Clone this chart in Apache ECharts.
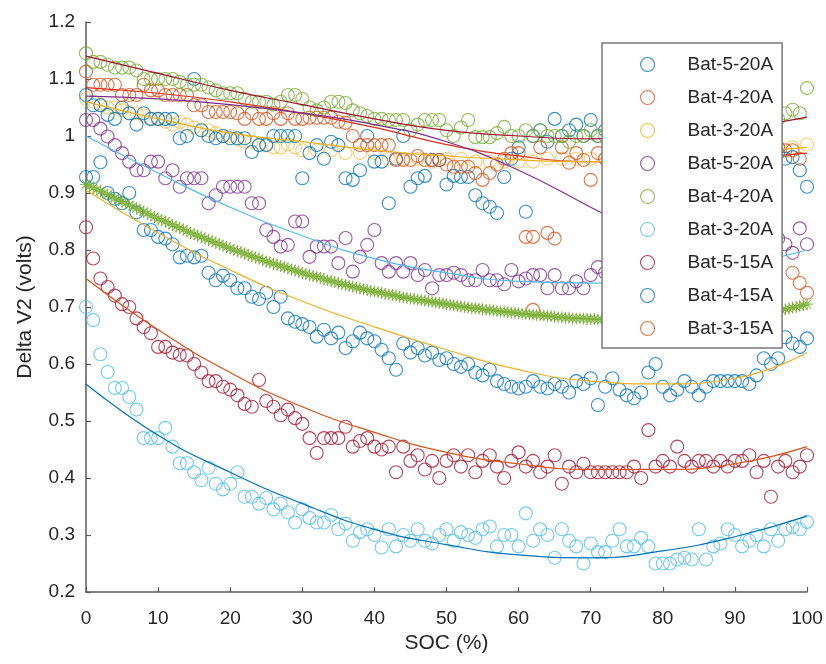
<!DOCTYPE html>
<html>
<head>
<meta charset="utf-8">
<script src="https://cdn.jsdelivr.net/npm/echarts/dist/echarts.min.js"></script>
<style>
	html, body { margin: 0; padding: 0; background: #fff; }
	#chart { width: 826px; height: 664px; }
</style>
</head>
<body>
<div id="chart"></div>
<script>
// y values at SOC = 0, 1, 2, ... 100 (null = no point)
var bat5_20A_a = [1.072,1.054,1.054,1.037,1.03,1.05,1.04,1.02,1.04,1.03,
	1.03,1.03,1.03,0.996,1.0,1.10,1.01,1.0,0.996,1.0,
	0.996,0.996,0.996,0.972,0.984,0.984,1.0,1.0,1.0,1.0,
	0.926,0.97,0.984,0.96,0.99,0.984,0.926,0.923,0.94,1.0,
	0.955,0.955,0.882,0.96,1.0,0.911,0.926,0.93,0.958,0.958,
	0.915,0.93,0.928,0.928,0.896,0.882,0.876,0.865,0.928,0.96,
	0.98,0.867,1.0,1.01,0.99,1.03,1.0,1.01,1.02,1.0,
	1.028,1.0,1.01,1.0,0.99,1.0,1.01,0.99,1.0,1.0,
	0.99,1.0,1.01,1.0,0.99,1.0,0.98,1.0,0.99,1.0,
	0.99,0.98,1.0,0.99,0.98,0.97,0.97,0.96,0.963,0.94,0.911]
var bat4_20A_a = [1.113,1.09,1.09,1.09,1.09,1.072,1.072,1.072,1.09,1.08,
	1.08,1.072,1.072,1.072,1.072,1.054,1.054,1.042,1.042,1.042,
	1.042,1.04,1.03,1.04,1.03,1.03,1.04,1.03,1.04,1.03,
	1.03,1.032,1.032,1.032,1.032,1.025,1.023,1.0,0.984,0.984,
	0.984,0.984,0.984,0.958,0.958,0.958,0.965,0.958,0.958,0.958,
	0.95,0.946,0.946,0.946,0.935,0.923,0.935,0.95,0.96,0.97,
	0.97,0.823,0.823,0.98,0.83,0.82,0.98,0.953,0.97,0.958,
	0.923,0.97,0.96,0.95,0.96,0.97,0.96,0.95,0.96,0.96,
	0.97,0.96,0.95,0.96,0.97,0.96,0.96,0.97,0.96,0.97,
	0.96,0.97,0.96,0.97,0.96,0.97,0.98,0.975,0.975,0.96,null]
var bat3_20A_a = [1.065,1.06,1.055,1.05,1.05,1.045,1.04,1.04,1.035,1.03,
	1.03,1.025,1.02,1.025,1.02,1.015,1.01,1.01,1.005,1.0,
	1.0,0.995,0.99,0.99,0.985,0.985,0.98,0.98,0.985,0.98,
	0.975,null,0.975,null,0.975,null,0.97,null,0.97,null,
	0.97,null,0.96,null,0.96,null,0.96,null,0.955,null,
	0.96,null,0.96,null,0.955,null,0.955,null,0.955,null,
	0.955,null,0.955,null,0.96,null,0.96,null,0.96,null,
	0.96,null,0.96,null,0.955,null,0.96,null,0.96,null,
	0.96,null,0.965,null,0.965,null,0.965,null,0.97,null,
	0.97,null,0.975,null,0.975,null,0.98,null,0.98,null,0.985]
var bat5_20A_b = [1.028,1.028,1.013,0.999,0.984,0.97,0.955,0.94,0.94,0.955,
	0.955,0.926,0.94,0.911,0.926,0.926,0.926,0.882,0.896,0.911,
	0.911,0.911,0.911,0.882,0.882,0.835,0.823,0.806,0.809,0.85,
	0.85,0.788,0.806,0.806,0.806,0.777,0.821,0.762,0.788,0.809,
	0.835,0.777,0.762,0.777,0.762,0.777,0.756,0.765,0.733,0.756,
	0.756,0.76,0.756,0.747,0.747,0.765,0.747,0.747,0.74,0.765,
	0.745,0.75,0.756,0.756,0.733,0.756,0.733,0.733,0.745,0.733,
	0.756,0.77,0.76,0.75,0.76,0.77,0.76,0.77,0.78,0.77,
	0.78,0.77,0.78,0.79,0.78,0.79,0.78,0.79,0.8,0.79,
	0.8,0.79,0.8,0.81,0.8,0.81,0.82,0.81,0.795,0.838,0.81]
var bat4_20A_b = [1.145,1.13,1.13,1.125,1.12,1.12,1.12,1.115,1.10,1.10,
	1.10,1.10,1.10,1.095,1.09,1.09,1.09,1.085,1.08,1.075,
	1.075,1.075,1.065,1.06,1.06,1.06,1.055,1.06,1.072,1.072,
	1.065,1.05,1.045,1.05,1.06,1.06,1.058,1.045,1.04,1.035,
	1.03,1.03,1.028,1.028,1.028,1.01,1.02,1.028,1.028,1.028,
	1.01,1.0,1.015,1.028,0.998,0.998,0.998,1.005,1.016,1.0,
	1.0,1.01,1.0,1.01,1.0,1.0,1.0,0.99,1.0,1.0,
	1.01,1.0,1.0,1.01,1.0,1.0,1.01,1.0,1.0,1.01,
	1.0,1.01,1.0,1.01,1.0,1.01,1.02,1.01,1.02,1.01,
	1.02,1.02,1.03,1.02,1.03,1.03,1.03,1.04,1.046,1.04,1.084]
var bat3_20A_b = [0.70,0.677,0.617,0.586,0.558,0.558,0.542,0.52,0.47,0.47,
	0.47,0.488,0.455,0.426,0.426,0.41,0.396,0.418,0.39,0.38,
	0.39,0.41,0.367,0.367,0.355,0.365,0.345,0.355,0.34,0.322,
	0.345,0.33,0.322,0.322,0.335,0.31,0.32,0.29,0.305,0.31,
	0.30,0.278,0.31,0.28,0.30,0.29,0.31,0.29,0.285,0.30,
	0.31,0.29,0.305,0.30,0.295,0.31,0.315,0.28,0.30,0.30,
	0.28,0.338,0.29,0.31,0.30,0.26,0.31,0.29,0.28,0.25,
	0.285,0.27,0.27,0.29,0.31,0.28,0.28,0.295,0.28,0.25,
	0.25,0.25,0.257,0.26,0.257,0.31,0.257,0.28,0.285,0.31,
	0.30,0.28,0.29,0.30,0.28,0.31,0.29,0.31,0.314,0.31,0.323]
var bat5_15A = [0.84,0.785,0.75,0.735,0.72,0.705,0.70,0.68,0.665,0.654,
	0.63,0.63,0.62,0.616,0.615,0.60,0.585,0.57,0.57,0.56,
	0.555,0.545,0.53,0.525,0.572,0.535,0.525,0.51,0.52,0.505,
	0.495,0.47,0.444,0.47,0.47,0.47,0.49,0.455,0.465,0.47,
	0.455,0.45,0.455,0.41,0.455,0.43,0.44,0.415,0.43,0.40,
	0.43,0.44,0.42,0.44,0.41,0.43,0.44,0.42,0.40,0.43,
	0.445,0.42,0.43,0.41,0.42,0.44,0.39,0.42,0.41,0.425,
	0.41,0.41,0.41,0.41,0.41,0.41,0.42,0.40,0.484,0.42,
	0.43,0.42,0.455,0.43,0.42,0.43,0.43,0.42,0.43,0.42,
	0.43,0.43,0.44,0.41,0.43,0.367,0.42,0.43,0.41,0.42,0.44]
var bat4_15A = [0.928,0.928,0.954,0.90,0.89,0.882,0.90,0.866,0.835,0.835,
	0.823,0.82,0.81,0.787,0.79,0.787,0.79,0.76,0.747,0.755,
	0.747,0.733,0.733,0.718,0.714,0.725,0.70,0.718,0.68,0.674,
	0.67,0.665,0.648,0.66,0.645,0.655,0.628,0.64,0.655,0.645,
	0.64,0.625,0.61,0.59,0.636,0.62,0.628,0.615,0.62,0.607,
	0.61,0.60,0.595,0.60,0.585,0.58,0.59,0.57,0.565,0.56,
	0.557,0.56,0.57,0.56,0.557,0.565,0.56,0.55,0.57,0.565,
	0.575,0.528,0.56,0.575,0.555,0.545,0.54,0.55,0.585,0.60,
	0.56,0.545,0.555,0.57,0.56,0.545,0.56,0.57,0.57,0.57,
	0.57,0.57,0.565,0.58,0.61,0.60,0.61,0.647,0.636,0.63,0.645]
// only the few circles that show outside the asterisk band
var bat3_15A_x = [62, 86, 98, 99, 100]
var bat3_15A_y = [0.695, 0.68, 0.76, 0.742, 0.725]

// dense asterisk curve, SOC = 0, 1, ... 100
var starCurve = [0.915,0.909,0.903,0.897,0.891,0.885,0.879,0.873,0.867,0.861,
	0.855,0.850,0.844,0.839,0.833,0.828,0.823,0.818,0.813,0.808,
	0.803,0.798,0.794,0.789,0.785,0.780,0.776,0.772,0.768,0.764,
	0.760,0.756,0.753,0.749,0.746,0.742,0.739,0.736,0.733,0.730,
	0.727,0.725,0.722,0.720,0.717,0.715,0.713,0.711,0.709,0.707,
	0.705,0.703,0.701,0.699,0.698,0.696,0.695,0.693,0.692,0.690,
	0.689,0.688,0.687,0.686,0.684,0.683,0.682,0.681,0.680,0.680,
	0.679,0.678,0.678,0.677,0.677,0.677,0.677,0.677,0.677,0.677,
	0.677,0.677,0.678,0.678,0.679,0.679,0.680,0.681,0.681,0.682,
	0.683,0.685,0.686,0.688,0.689,0.691,0.693,0.696,0.699,0.702,0.705]
// same curve at SOC = 0.5, 1.5, ... 99.5
var starCurveMid = [0.912,0.906,0.900,0.894,0.888,0.882,0.876,0.870,0.864,0.858,
	0.852,0.847,0.841,0.836,0.830,0.825,0.820,0.815,0.810,0.805,
	0.800,0.796,0.791,0.787,0.782,0.778,0.774,0.770,0.766,0.762,
	0.758,0.754,0.751,0.747,0.744,0.740,0.737,0.734,0.731,0.728,
	0.726,0.723,0.721,0.718,0.716,0.714,0.712,0.710,0.708,0.706,
	0.704,0.702,0.700,0.698,0.697,0.695,0.694,0.692,0.691,0.690,
	0.688,0.687,0.686,0.685,0.684,0.682,0.681,0.680,0.680,0.679,
	0.679,0.678,0.677,0.677,0.677,0.677,0.677,0.677,0.677,0.677,
	0.677,0.677,0.678,0.678,0.679,0.680,0.680,0.681,0.682,0.682,
	0.684,0.685,0.687,0.688,0.690,0.692,0.694,0.697,0.700,0.703]

// fitted curves, SOC = 0, 10, ... 100
var fitX = [0, 10, 20, 30, 40, 50, 60, 70, 80, 90, 100]
var fitGreen = [1.14, 1.11, 1.08, 1.055, 1.03, 1.01, 1.0, 0.995, 1.0, 1.012, 1.033]
var fitOrange = [1.085, 1.075, 1.06, 1.04, 1.015, 0.985, 0.965, 0.955, 0.955, 0.96, 0.97]
var fitPurple = [1.07, 1.065, 1.055, 1.04, 1.02, 0.99, 0.94, 0.875, 0.81, null, null]
var fitYellow = [1.06, 1.03, 1.005, 0.99, 0.975, 0.965, 0.958, 0.955, 0.96, 0.97, 0.98]
var fitCyan = [1.0, 0.935, 0.875, 0.825, 0.785, 0.76, 0.745, 0.742, 0.75, 0.77, 0.80]
var fitMid = [0.905, 0.83, 0.765, 0.71, 0.665, 0.625, 0.59, 0.57, 0.565, 0.575, 0.62]
var fitRed = [0.75, 0.66, 0.585, 0.525, 0.48, 0.445, 0.425, 0.415, 0.415, 0.425, 0.455]
var fitLow = [0.565, 0.475, 0.41, 0.355, 0.31, 0.283, 0.265, 0.26, 0.272, 0.297, 0.333]

var C_BLUE = '#0072BD', C_ORANGE = '#D95319', C_YELLOW = '#EDB120', C_PURPLE = '#7E2F8E',
	C_GREEN = '#77AC30', C_CYAN = '#4DBEEE', C_DRED = '#A2142F'
var FONT = '"Liberation Sans", Arial, Helvetica, sans-serif'
var STAR = 'path://M5,0L5,10M0,5L10,5M1.5,1.5L8.5,8.5M1.5,8.5L8.5,1.5'

function toPoints(ys, offset) {
	var pts = []
	ys.forEach(function(v, i) {
		if (v !== null) pts.push([i + (offset || 0), v])
	})
	return pts
}

function circles(name, pts, color, z, alpha) {
	return {
		name: name,
		type: 'scatter',
		data: pts,
		symbol: 'circle',
		symbolSize: 13,
		z: z || 2,
		silent: true,
		itemStyle: {
			color: 'rgba(0,0,0,0)',
			borderColor: color,
			borderWidth: 1.1,
			opacity: alpha || 0.8
		}
	}
}

function stars(pts) {
	return {
		type: 'scatter',
		data: pts,
		symbol: STAR,
		symbolSize: 12,
		silent: true,
		z: 4,
		itemStyle: { color: 'none', borderColor: C_GREEN, borderWidth: 1.1 }
	}
}

function fitLine(ys, color) {
	var pts = []
	fitX.forEach(function(x, i) {
		if (ys[i] !== null) pts.push([x, ys[i]])
	})
	return {
		type: 'line',
		data: pts,
		smooth: 0.5,
		showSymbol: false,
		symbol: 'none',
		silent: true,
		z: 3,
		lineStyle: { color: color, width: 1.2 }
	}
}

var legendNames = [
	['Bat-5-20A', C_BLUE], ['Bat-4-20A', C_ORANGE], ['Bat-3-20A', C_YELLOW],
	['Bat-5-20A#2', C_PURPLE], ['Bat-4-20A#2', C_GREEN], ['Bat-3-20A#2', C_CYAN],
	['Bat-5-15A', C_DRED], ['Bat-4-15A', C_BLUE], ['Bat-3-15A', C_ORANGE]
]

var myChart = echarts.init(document.getElementById('chart'))
var option = {
	animation: false,
	backgroundColor: '#fff',
	grid: { left: 86, right: 19, top: 22, bottom: 72 },
	legend: {
		orient: 'vertical',
		left: 602,
		top: 43,
		z: 10,
		backgroundColor: '#fff',
		borderColor: '#7a7a7a',
		borderWidth: 1.5,
		borderRadius: 0,
		padding: [12, 9, 10, 38],
		itemWidth: 14,
		itemHeight: 14,
		itemGap: 14,
		selectedMode: false,
		formatter: function(name) { return name.split('#')[0] },
		textStyle: { fontSize: 19, color: '#262626', fontFamily: FONT, padding: [0, 0, 0, 28] },
		data: legendNames.map(function(item) {
			return {
				name: item[0],
				icon: 'circle',
				itemStyle: { color: 'rgba(0,0,0,0)', borderColor: item[1], borderWidth: 1.1, opacity: 0.8 }
			}
		})
	},
	xAxis: {
		type: 'value',
		min: 0,
		max: 100,
		interval: 10,
		name: 'SOC (%)',
		nameLocation: 'middle',
		nameGap: 38,
		nameTextStyle: { fontSize: 21, color: '#262626', fontFamily: FONT },
		axisLine: { lineStyle: { color: '#5a5a5a', width: 1.5 } },
		axisTick: { inside: true, length: 5, lineStyle: { color: '#5a5a5a', width: 1.2 } },
		axisLabel: { fontSize: 19, color: '#262626', margin: 17, fontFamily: FONT },
		splitLine: { show: false }
	},
	yAxis: {
		type: 'value',
		min: 0.2,
		max: 1.2,
		interval: 0.1,
		name: 'Delta V2 (volts)',
		nameLocation: 'middle',
		nameGap: 50,
		nameTextStyle: { fontSize: 21, color: '#262626', fontFamily: FONT },
		axisLine: { show: true, lineStyle: { color: '#5a5a5a', width: 1.5 } },
		axisTick: { show: true, inside: true, length: 5, lineStyle: { color: '#5a5a5a', width: 1.2 } },
		axisLabel: { fontSize: 19, color: '#262626', margin: 11, fontFamily: FONT },
		splitLine: { show: false }
	},
	series: [
		circles('Bat-3-20A', toPoints(bat3_20A_a), C_YELLOW, 1, 0.6),
		circles('Bat-5-20A', toPoints(bat5_20A_a), C_BLUE),
		circles('Bat-4-20A', toPoints(bat4_20A_a), C_ORANGE),
		circles('Bat-5-20A#2', toPoints(bat5_20A_b), C_PURPLE),
		circles('Bat-4-20A#2', toPoints(bat4_20A_b), C_GREEN),
		circles('Bat-3-20A#2', toPoints(bat3_20A_b), C_CYAN),
		circles('Bat-5-15A', toPoints(bat5_15A), C_DRED),
		circles('Bat-4-15A', toPoints(bat4_15A), C_BLUE),
		circles('Bat-3-15A', bat3_15A_x.map(function(x, i) { return [x, bat3_15A_y[i]] }), C_ORANGE),
		stars(toPoints(starCurve)),
		stars(toPoints(starCurveMid, 0.5)),
		fitLine(fitGreen, C_DRED),
		fitLine(fitOrange, '#E0301E'),
		fitLine(fitPurple, C_PURPLE),
		fitLine(fitYellow, C_YELLOW),
		fitLine(fitCyan, C_CYAN),
		fitLine(fitMid, C_YELLOW),
		fitLine(fitRed, C_ORANGE),
		fitLine(fitLow, C_BLUE)
	]
}
myChart.setOption(option)
</script>
</body>
</html>
